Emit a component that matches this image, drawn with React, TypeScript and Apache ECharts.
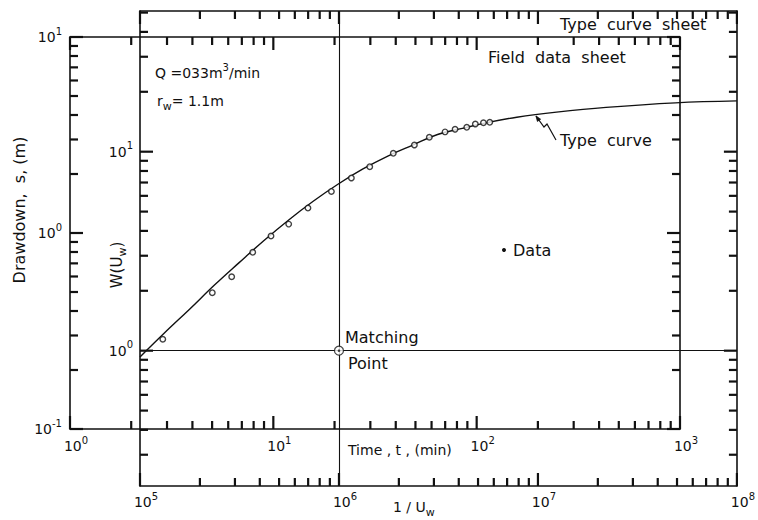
import React, { useEffect, useRef } from "react";
import * as echarts from "echarts";

// ---------- data ----------
// Field data sheet: drawdown s (m) versus time t (min)
const timeMin = [2.86, 5.01, 6.24, 7.92, 9.74, 11.9, 14.8, 19.3, 24.2, 29.8, 38.9, 49.4, 58.5, 69.9, 78.3, 89.4, 98.5, 108, 116];
const drawdownM = [0.287, 0.496, 0.598, 0.797, 0.965, 1.11, 1.34, 1.63, 1.91, 2.18, 2.55, 2.81, 3.08, 3.28, 3.38, 3.46, 3.6, 3.65, 3.67];

// Type curve sheet: W(u_w) versus 1/u_w
const invU = [1e5, 1.33e5, 1.78e5, 2.36e5, 3.15e5, 4.2e5, 5.59e5, 7.45e5, 9.92e5, 1.32e6, 1.76e6, 2.35e6, 3.13e6, 4.17e6, 5.55e6, 7.83e6, 1.24e7, 2.2e7, 4.91e7, 1e8];
const wU = [0.93, 1.23, 1.62, 2.13, 2.77, 3.58, 4.54, 5.65, 6.88, 8.19, 9.51, 10.8, 12.2, 13.1, 14.0, 14.9, 15.8, 16.7, 17.6, 18.0];

// Matching point (type-curve coordinates)
const matchInvU = 1e6;
const matchW = 1;

// Axis ranges, tick labels and tick marks
const tRange = [1, 1000];
const sRange = [0.1, 10];
const invURange = [1e5, 1e8];
const wRange = [Math.pow(10, -0.68), Math.pow(10, 1.707)];
const tLabels = [1, 10, 100, 1000];
const sLabels = [0.1, 1, 10];
const invULabels = [1e5, 1e6, 1e7, 1e8];
const wLabels = [1, 10];
const tTicks = [1, 2, 3, 4, 5, 6, 7, 8, 9, 10, 20, 30, 40, 50, 60, 70, 80, 90, 100, 200, 300, 400, 500, 600, 700, 800, 900, 1000];
const sTicks = [0.1, 0.2, 0.3, 0.4, 0.5, 0.6, 0.7, 0.8, 0.9, 1, 2, 3, 4, 5, 6, 7, 8, 9, 10];
const invUTicks = [1e5, 2e5, 3e5, 4e5, 5e5, 6e5, 7e5, 8e5, 9e5, 1e6, 2e6, 3e6, 4e6, 5e6, 6e6, 7e6, 8e6, 9e6, 1e7, 2e7, 3e7, 4e7, 5e7, 6e7, 7e7, 8e7, 9e7, 1e8];
const wTicks = [0.3, 0.4, 0.5, 0.6, 0.7, 0.8, 0.9, 1, 2, 3, 4, 5, 6, 7, 8, 9, 10, 20, 30, 40, 50];

// ---------- styling ----------
const INK = "#111111";
const FONT = "DejaVu Sans";

const richBase = {
  s: { width: 12, fontSize: 14, fontFamily: FONT },
  b: { fontSize: 14, fontFamily: FONT, color: INK },
  e: { fontSize: 10, fontFamily: FONT, color: INK, padding: [0, 0, 12, 0] },
};
const powLabelBottom = (v: number) => `{s| }{b|10}{e|${Math.round(Math.log10(v))}}`;
const powLabelLeft = (v: number) => `{b|10}{e|${Math.round(Math.log10(v))}}`;

function axis(o: any) {
  const { gridIndex, position, range, labels, margin, bottomLabel } = o;
  return {
    type: "log",
    logBase: 10,
    gridIndex,
    position,
    min: range[0],
    max: range[1],
    axisLine: { show: true, onZero: false, lineStyle: { color: INK, width: 1.6 } },
    axisTick: { show: false },
    axisLabel: labels
      ? {
          show: true,
          customValues: labels,
          margin,
          formatter: bottomLabel ? powLabelBottom : powLabelLeft,
          rich: richBase,
          align: bottomLabel ? "center" : "right",
        }
      : { show: false },
    splitLine: { show: false },
    minorTick: { show: false },
    minorSplitLine: { show: false },
  };
}

const txt = (x: number, y: number, text: string, extra: any = {}, rot = 0) => ({
  type: "text",
  x,
  y,
  rotation: rot,
  silent: true,
  style: {
    text,
    fontSize: 16,
    fontFamily: FONT,
    fill: INK,
    align: "left",
    verticalAlign: "middle",
    textAlign: "left",
    textVerticalAlign: "middle",
    ...extra,
  },
});

const baseGraphic: any[] = [
  txt(560, 24, "Type  curve  sheet"),
  txt(488, 57, "Field  data  sheet"),
  txt(560, 140, "Type  curve"),
  txt(345, 337, "Matching"),
  txt(348, 363, "Point"),
  txt(513, 250, "Data"),
  { type: "circle", shape: { cx: 504, cy: 250, r: 2 }, style: { fill: INK }, silent: true },
  txt(348, 450, "Time , t , (min)", { fontSize: 14 }),
  txt(155, 73, "{a|Q =033m}{s|3}{a|/min}", {
    rich: {
      a: { fontSize: 14, fontFamily: FONT, fill: INK, color: INK },
      s: { fontSize: 10, fontFamily: FONT, fill: INK, color: INK, padding: [0, 0, 12, 0] },
    },
  }),
  txt(157, 101, "{a|r}{w|w}{a|= 1.1m}", {
    rich: {
      a: { fontSize: 14, fontFamily: FONT, fill: INK, color: INK },
      w: { fontSize: 11, fontFamily: FONT, fill: INK, color: INK, padding: [10, 0, 0, 0] },
    },
  }),
  txt(393, 507, "{a|1 / U}{w|w}", {
    rich: {
      a: { fontSize: 14, fontFamily: FONT, fill: INK, color: INK },
      w: { fontSize: 11, fontFamily: FONT, fill: INK, color: INK, padding: [10, 0, 0, 0] },
    },
  }),
  txt(19, 210, "Drawdown,  s, (m)", { fontSize: 16, align: "center", textAlign: "center" }, Math.PI / 2),
  txt(117, 265, "{a|W(U}{w|w}{a|)}", {
    align: "center",
    textAlign: "center",
    rich: {
      a: { fontSize: 15, fontFamily: FONT, fill: INK, color: INK },
      w: { fontSize: 11, fontFamily: FONT, fill: INK, color: INK, padding: [10, 0, 0, 0] },
    },
  }, Math.PI / 2),
  {
    type: "polyline",
    silent: true,
    shape: { points: [[536, 116], [544, 127], [547, 124], [556, 140]] },
    style: { stroke: INK, lineWidth: 1.2, fill: null },
  },
  {
    type: "polygon",
    silent: true,
    shape: { points: [[536, 116], [540.6, 119.2], [537.4, 121.4]] },
    style: { fill: INK, stroke: INK, lineWidth: 0.8 },
  },
];

export default function App() {
  const ref = useRef<HTMLDivElement>(null);

  useEffect(() => {
    const chart = echarts.init(ref.current!, null, { renderer: "svg" });

    const option: any = {
      animation: false,
      backgroundColor: "#ffffff",
      grid: [
        { left: 70, top: 37, width: 610, height: 392, containLabel: false },
        { left: 140, top: 11, width: 602, height: 475, containLabel: false },
      ],
      xAxis: [
        axis({ gridIndex: 0, position: "bottom", range: tRange, labels: tLabels, margin: 6, bottomLabel: true }),
        axis({ gridIndex: 0, position: "top", range: tRange }),
        axis({ gridIndex: 1, position: "bottom", range: invURange, labels: invULabels, margin: 5, bottomLabel: true }),
        axis({ gridIndex: 1, position: "top", range: invURange }),
      ],
      yAxis: [
        axis({ gridIndex: 0, position: "left", range: sRange, labels: sLabels, margin: 8 }),
        axis({ gridIndex: 0, position: "right", range: sRange }),
        axis({ gridIndex: 1, position: "left", range: wRange, labels: wLabels, margin: 7 }),
        axis({ gridIndex: 1, position: "right", range: wRange }),
      ],
      series: [
        {
          name: "Type curve",
          type: "line",
          xAxisIndex: 2,
          yAxisIndex: 2,
          data: invU.map((x, i) => [x, wU[i]]),
          smooth: 0.4,
          showSymbol: false,
          symbol: "none",
          lineStyle: { color: INK, width: 1.4 },
          z: 3,
          markLine: {
            silent: true,
            symbol: "none",
            label: { show: false },
            lineStyle: { color: INK, width: 1.1, type: "solid" },
            data: [{ xAxis: matchInvU }, { yAxis: matchW }],
          },
        },
        {
          name: "Data",
          type: "scatter",
          xAxisIndex: 0,
          yAxisIndex: 0,
          data: timeMin.map((t, i) => [t, drawdownM[i]]),
          symbol: "circle",
          symbolSize: 5.5,
          itemStyle: { color: "#ffffff", borderColor: INK, borderWidth: 1.4 },
          z: 5,
        },
        {
          name: "Matching point",
          type: "scatter",
          xAxisIndex: 2,
          yAxisIndex: 2,
          data: [[matchInvU, matchW]],
          symbol: "circle",
          symbolSize: 9,
          itemStyle: { color: "#ffffff", borderColor: INK, borderWidth: 1.2 },
          z: 6,
        },
        {
          name: "Matching point centre",
          type: "scatter",
          xAxisIndex: 2,
          yAxisIndex: 2,
          data: [[matchInvU, matchW]],
          symbol: "circle",
          symbolSize: 2.5,
          itemStyle: { color: INK },
          z: 7,
        },
      ],
      graphic: baseGraphic,
    };

    chart.setOption(option);

    // Inward tick marks on all four sides of both sheets, placed through the axes' own scales
    const tickEls: any[] = [];
    const px = (finder: any, v: number) => {
      const r: any = chart.convertToPixel(finder, v);
      return Array.isArray(r) ? r[0] : r;
    };
    const addTicks = (
      axisFinder: any,
      crossFinder: any,
      crossVal: number,
      side: "bottom" | "top" | "left" | "right",
      values: number[],
      majors: number[]
    ) => {
      const isX = side === "bottom" || side === "top";
      const c = px(crossFinder, crossVal);
      values.forEach((v) => {
        const a = px(axisFinder, v);
        if (typeof a !== "number" || typeof c !== "number" || !isFinite(a) || !isFinite(c)) return;
        const major = majors.some((m) => Math.abs(m - v) / m < 1e-6);
        const len = major ? 13 : 8;
        const x1 = isX ? a : c;
        const y1 = isX ? c : a;
        let x2 = x1;
        let y2 = y1;
        if (side === "bottom") y2 -= len;
        if (side === "top") y2 += len;
        if (side === "left") x2 += len;
        if (side === "right") x2 -= len;
        tickEls.push({
          type: "line",
          silent: true,
          shape: { x1, y1, x2, y2 },
          style: { stroke: INK, lineWidth: 2.2 },
        });
      });
    };
    addTicks({ xAxisIndex: 0 }, { yAxisIndex: 0 }, sRange[0], "bottom", tTicks, tLabels);
    addTicks({ xAxisIndex: 1 }, { yAxisIndex: 0 }, sRange[1], "top", tTicks, tLabels);
    addTicks({ yAxisIndex: 0 }, { xAxisIndex: 0 }, tRange[0], "left", sTicks, sLabels);
    addTicks({ yAxisIndex: 1 }, { xAxisIndex: 0 }, tRange[1], "right", sTicks, sLabels);
    addTicks({ xAxisIndex: 2 }, { yAxisIndex: 2 }, wRange[0], "bottom", invUTicks, invULabels);
    addTicks({ xAxisIndex: 3 }, { yAxisIndex: 2 }, wRange[1], "top", invUTicks, invULabels);
    addTicks({ yAxisIndex: 2 }, { xAxisIndex: 2 }, invURange[0], "left", wTicks, wLabels);
    addTicks({ yAxisIndex: 3 }, { xAxisIndex: 2 }, invURange[1], "right", wTicks, wLabels);

    chart.setOption({ graphic: [...baseGraphic, ...tickEls] });

    return () => chart.dispose();
  }, []);

  return (
    <div
      ref={ref}
      style={{ position: "fixed", left: 0, top: 0, width: 758, height: 520, background: "#ffffff" }}
    />
  );
}
